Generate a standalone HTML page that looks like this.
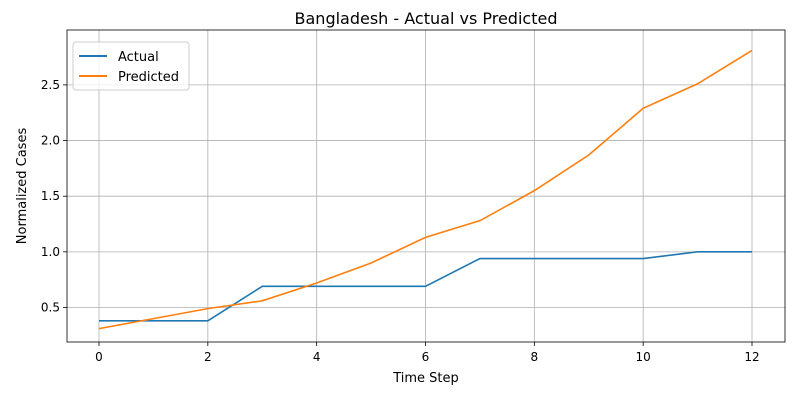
<!DOCTYPE html>
<html><head><meta charset="utf-8"><style>
body{margin:0;background:#fff;font-family:"Liberation Sans","DejaVu Sans",sans-serif;}
</style></head><body>
<svg id="chart" width="800" height="400" xmlns="http://www.w3.org/2000/svg" font-family="'DejaVu Sans','Liberation Sans',sans-serif">
<rect width="800" height="400" fill="#fff"/>
<g id="grid"></g>
<g id="series"></g>
<rect x="67" y="30" width="718" height="312" fill="none" stroke="#000" stroke-width="0.8"/>
<g id="ticks"></g>
<text x="426" y="29" text-anchor="middle" font-size="16" dy="-5">Bangladesh - Actual vs Predicted</text>
<text x="426" y="382" text-anchor="middle" font-size="13">Time Step</text>
<text transform="translate(26,186) rotate(-90)" text-anchor="middle" font-size="13">Normalized Cases</text>
<g>
<rect x="73" y="42" width="116" height="48" rx="3" fill="#fff" fill-opacity="0.8" stroke="#ccc"/>
<g><line x1="79" y1="56" x2="107" y2="56" stroke="#1f77b4" stroke-width="2"/><text x="118" y="61" font-size="13">Actual</text></g>
<g><line x1="79" y1="76" x2="107" y2="76" stroke="#ff7f0e" stroke-width="2"/><text x="118" y="81" font-size="13">Predicted</text></g>
</g>
</svg>
<script>
const steps=[0,1,2,3,4,5,6,7,8,9,10,11,12];
const actual=[0.38,0.38,0.38,0.69,0.69,0.69,0.69,0.94,0.94,0.94,0.94,1.0,1.0];
const predicted=[0.31,0.40,0.49,0.56,0.72,0.90,1.13,1.28,1.55,1.87,2.29,2.51,2.81];
const xTicks=[0,2,4,6,8,10,12];
const yTicks=[0.5,1.0,1.5,2.0,2.5];
const NS="http://www.w3.org/2000/svg";
const xs=v=>99+v*54.4167;
const ys=v=>307.5-(v-0.5)*111.3;
const grid=document.getElementById('grid'),ticks=document.getElementById('ticks'),ser=document.getElementById('series');
function mk(t,a,p){const e=document.createElementNS(NS,t);for(const k in a)e.setAttribute(k,a[k]);p.appendChild(e);return e;}
xTicks.forEach(v=>{
 const g=mk('line',{x1:xs(v),x2:xs(v),y1:30,y2:342,stroke:'#b0b0b0','stroke-width':0.8},grid);
 
 
 mk('line',{x1:xs(v),x2:xs(v),y1:342,y2:346,stroke:'#000','stroke-width':0.8},ticks);
 const t=mk('text',{x:xs(v),y:361,'text-anchor':'middle','font-size':12},ticks);t.textContent=v;
 
 
});
yTicks.forEach(v=>{
 const g=mk('line',{x1:67,x2:785,y1:ys(v),y2:ys(v),stroke:'#b0b0b0','stroke-width':0.8},grid);
 
 
 mk('line',{x1:63,x2:67,y1:ys(v),y2:ys(v),stroke:'#000','stroke-width':0.8},ticks);
 const t=mk('text',{x:60,y:ys(v)+4,'text-anchor':'end','font-size':12},ticks);t.textContent=v.toFixed(1);
 
 
});
function line(d,c,n){const p=mk('polyline',{points:d.map((v,i)=>xs(steps[i])+','+ys(v)).join(' '),fill:'none',stroke:c,'stroke-width':1.6},ser);
 
 }
line(actual,'#1f77b4','actual-line');
line(predicted,'#ff7f0e','predicted-line');
</script>
</body></html>
